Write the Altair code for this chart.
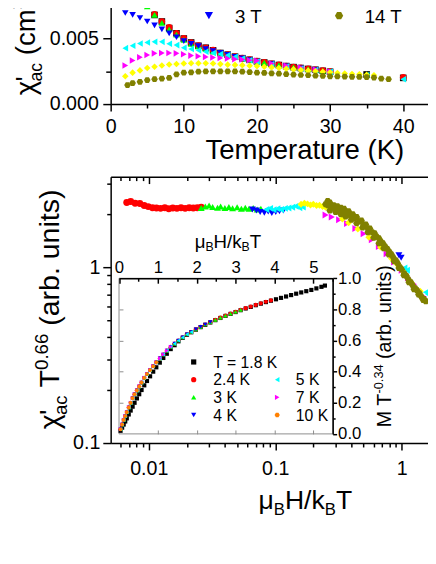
import altair as alt
import pandas as pd

FONT = "Liberation Sans"
HEX = "M-1,0L-0.5,-0.866L0.5,-0.866L1,0L0.5,0.866L-0.5,0.866Z"

# ---------------- data: top panel (chi'_ac vs T for several fields) ----------------
fields = ["0 T", "1 T", "2 T", "3 T", "5 T", "7 T", "10 T", "14 T"]
field_colors = ["#000000", "#ff0000", "#00ff00", "#0000ff", "#00ffff", "#ff00ff", "#ffff00", "#808000"]
field_shapes = ["square", "circle", "triangle-up", "triangle-down", "triangle-left", "triangle-right", "diamond", HEX]

top_T = {
    "0 T": [2, 3, 4, 5, 6, 7, 8, 9, 10, 11, 12, 13, 14, 15, 16, 17, 18, 19, 20, 21, 22, 23, 24, 25, 26, 27, 28, 29, 30, 35, 40],
    "1 T": [2, 3, 4, 5, 6, 7, 8, 9, 10, 11, 12, 13, 14, 15, 16, 17, 18, 19, 20, 21, 22, 23, 24, 25, 26, 27, 28, 29, 30, 40],
    "2 T": [2, 3, 4, 5, 6, 7, 8, 9, 10, 11, 12, 13, 14, 15, 16, 17, 18, 19, 20, 21, 22, 23, 24, 25, 26, 27, 28, 29, 30],
    "3 T": [2, 3, 4, 5, 6, 7, 8, 9, 10, 11, 12, 13, 14, 15, 16, 17, 18, 19, 20, 22, 24, 26, 28, 30],
    "5 T": [2, 3, 4, 5, 6, 7, 8, 9, 10, 11, 12, 13, 14, 15, 16, 17, 18, 19, 20, 22, 24, 26, 28, 30, 35, 40],
    "7 T": [2, 3, 4, 5, 6, 7, 8, 9, 10, 11, 12, 13, 14, 15, 16, 17, 18, 19, 20, 22, 24, 26, 28, 30],
    "10 T": [2, 3, 4, 5, 6, 7, 8, 9, 10, 11, 12, 13, 14, 15, 16, 17, 18, 19, 20, 21, 22, 23, 24, 25, 26, 27, 28,
             29, 30, 31, 32, 33, 34, 35, 36],
    "14 T": [2.3, 3, 4, 5, 6, 7, 8, 9, 10, 11, 12, 13, 14, 15, 16, 17, 18, 19, 20, 21, 22, 23, 24, 25, 26, 27, 28,
             29, 30, 31, 32, 33, 34, 35, 36, 37, 38],
}
top_chi = {
    "0 T": [0.0130, 0.0105, 0.0089, 0.0076, 0.0068, 0.0063, 0.0058, 0.0054, 0.0050, 0.0047, 0.00445, 0.0043,
            0.0041, 0.0039, 0.00377, 0.00362, 0.0035, 0.00338, 0.00327, 0.00317, 0.00307, 0.00298, 0.0029,
            0.00282, 0.00275, 0.00268, 0.00262, 0.00254, 0.00247, 0.00226, 0.00200],
    "1 T": [0.0125, 0.0102, 0.0087, 0.0075, 0.00685, 0.0063, 0.00585, 0.0054, 0.00502, 0.0047, 0.00447, 0.0043,
            0.00412, 0.0039, 0.00378, 0.00363, 0.00351, 0.00339, 0.00328, 0.00318, 0.00308, 0.00299, 0.00291,
            0.00283, 0.00276, 0.00269, 0.00262, 0.00255, 0.00248, 0.00205],
    "2 T": [0.0110, 0.0093, 0.0082, 0.00745, 0.0068, 0.0062, 0.0057, 0.0053, 0.0049, 0.0046, 0.0044, 0.0042,
            0.0040, 0.00388, 0.00375, 0.0036, 0.00348, 0.00337, 0.00326, 0.00316, 0.00306, 0.00297, 0.00289,
            0.00281, 0.00274, 0.00267, 0.0026, 0.00253, 0.00246],
    "3 T": [0.00695, 0.0068, 0.00657, 0.0063, 0.0060, 0.0057, 0.0054, 0.0051, 0.0048, 0.0046, 0.00442, 0.0042,
            0.00405, 0.0039, 0.00375, 0.0036, 0.00348, 0.00336, 0.00325, 0.00305, 0.00288, 0.00273, 0.0026, 0.00245],
    "5 T": [0.00427, 0.00445, 0.00462, 0.0047, 0.00475, 0.00475, 0.0046, 0.0045, 0.0043, 0.0042, 0.0041, 0.0040,
            0.0039, 0.00382, 0.00372, 0.0036, 0.00347, 0.00335, 0.00324, 0.00304, 0.00287, 0.00272, 0.00259,
            0.00246, 0.00222, 0.0019],
    "7 T": [0.00295, 0.00332, 0.00357, 0.00375, 0.00387, 0.0039, 0.0039, 0.00387, 0.0038, 0.0037, 0.00365, 0.0036,
            0.00355, 0.00352, 0.00348, 0.00343, 0.0034, 0.00335, 0.0033, 0.0031, 0.00293, 0.00277, 0.00263, 0.00248],
    "10 T": [0.00212, 0.0024, 0.00257, 0.00275, 0.00285, 0.00295, 0.00302, 0.00306, 0.0031, 0.00311, 0.00312,
             0.00311, 0.0031, 0.00305, 0.00301, 0.00299, 0.00297, 0.00293, 0.0029, 0.00285, 0.0028, 0.00275, 0.0027,
             0.00265, 0.0026, 0.00255, 0.0025, 0.00246, 0.00242, 0.00237, 0.00233, 0.0023, 0.00227, 0.00223, 0.0022],
    "14 T": [0.00145, 0.0016, 0.0017, 0.00183, 0.0019, 0.00195, 0.0020, 0.00227, 0.0024, 0.00242, 0.00247, 0.00249,
             0.0025, 0.0025, 0.0025, 0.00249, 0.00247, 0.00244, 0.0024, 0.00238, 0.00235, 0.00232, 0.00228, 0.00225,
             0.00222, 0.0022, 0.00217, 0.00215, 0.00212, 0.00211, 0.0021, 0.00208, 0.00207, 0.00205, 0.00202,
             0.00195, 0.0019],
}

# ---------------- data: main panel (scaled chi'_ac T^0.66 vs muB H / kB T) ----------------
main_fields = fields[1:]
main_x = {
    "1 T": [0.0067, 0.0072, 0.0078, 0.0085, 0.0092, 0.0099, 0.0107, 0.0115, 0.0124, 0.0134, 0.0144, 0.0155,
            0.0167, 0.0180, 0.0194, 0.0209, 0.0225, 0.0242, 0.0260],
    "2 T": [0.026, 0.028, 0.030, 0.032, 0.035, 0.037, 0.040, 0.043, 0.046, 0.050, 0.054, 0.058, 0.062, 0.067,
            0.072, 0.077],
    "3 T": [0.066, 0.071, 0.076, 0.082, 0.088, 0.094, 0.101, 0.108, 0.116, 0.95, 0.99],
    "5 T": [0.085, 0.091, 0.097, 0.104, 0.111, 0.119, 0.127, 0.136, 0.145, 0.155, 0.165, 1.05, 1.10, 1.55, 1.62],
    "7 T": [0.25, 0.28, 0.32, 0.37, 0.43, 0.50, 0.58, 0.66, 0.76, 0.87, 1.00, 1.12, 1.25, 1.37, 1.50],
    "10 T": [0.160, 0.170, 0.180, 0.190, 0.200, 0.212, 0.224, 0.237, 0.250, 0.34, 0.38, 0.45, 0.55, 0.68, 0.83,
             0.92, 1.02, 1.20, 1.40],
    "14 T": [0.25, 0.26, 0.27, 0.29, 0.31, 0.33, 0.35, 0.38, 0.41, 0.44, 0.48, 0.52, 0.56, 0.61, 0.66, 0.71, 0.77,
             0.83, 0.90, 0.97, 1.05, 1.13, 1.22, 1.32, 1.43, 1.55,
             0.26, 0.28, 0.30, 0.32, 0.345, 0.37, 0.395, 0.42, 0.46, 0.50, 0.54, 0.585, 0.635, 0.685, 0.74, 0.80,
             0.86, 0.93, 1.00, 1.09, 1.18, 1.28, 1.38, 1.50,
             0.27, 0.30, 0.33, 0.36, 0.40, 0.44, 0.49, 0.54, 0.60, 0.66, 0.72, 0.79, 0.87, 0.95, 1.04, 1.14, 1.25,
             1.36, 1.48],
}
main_y = {
    "1 T": [2.33, 2.36, 2.31, 2.30, 2.24, 2.21, 2.18, 2.17, 2.16, 2.18, 2.15, 2.17, 2.16, 2.18, 2.16, 2.18, 2.17,
            2.18, 2.19],
    "2 T": [2.17, 2.21, 2.24, 2.20, 2.18, 2.21, 2.17, 2.20, 2.16, 2.19, 2.15, 2.18, 2.15, 2.17, 2.13, 2.15],
    "3 T": [2.13, 2.10, 2.06, 2.04, 2.07, 2.03, 2.06, 2.08, 2.10, 1.17, 1.13],
    "5 T": [2.13, 2.16, 2.12, 2.15, 2.13, 2.16, 2.17, 2.19, 2.22, 2.18, 2.20, 0.99, 0.96, 0.72, 0.70],
    "7 T": [1.98, 1.93, 1.86, 1.77, 1.66, 1.55, 1.43, 1.31, 1.19, 1.07, 0.96, 0.87, 0.80, 0.74, 0.68],
    "10 T": [2.28, 2.31, 2.29, 2.26, 2.28, 2.24, 2.25, 2.21, 2.19, 1.88, 1.79, 1.65, 1.48, 1.30, 1.12, 1.04, 0.95,
             0.81, 0.73],
    "14 T": [2.28, 2.38, 2.33, 2.25, 2.22, 2.18, 2.15, 2.08, 2.00, 1.93, 1.84, 1.75, 1.66, 1.56, 1.46, 1.37, 1.27,
             1.18, 1.09, 1.00, 0.92, 0.85, 0.79, 0.74, 0.68, 0.64,
             2.25, 2.20, 2.14, 2.10, 2.05, 2.00, 1.95, 1.90, 1.82, 1.74, 1.66, 1.58, 1.49, 1.40, 1.31, 1.22, 1.13,
             1.05, 0.97, 0.89, 0.82, 0.76, 0.71, 0.66,
             2.10, 2.06, 2.00, 1.94, 1.86, 1.78, 1.68, 1.58, 1.47, 1.37, 1.28, 1.18, 1.08, 0.99, 0.90, 0.82, 0.75,
             0.70, 0.65],
}

# ---------------- data: inset (M T^-0.34 vs muB H / kB T) ----------------
temps = ["1.8 K", "2.4 K", "3 K", "4 K", "5 K", "7 K", "10 K"]
temp_labels = ["T = 1.8 K", "2.4 K", "3 K", "4 K", "5 K", "7 K", "10 K"]
temp_colors = ["#000000", "#ff0000", "#00ff00", "#0000ff", "#00ffff", "#ff00ff", "#ff8000"]
temp_shapes = ["square", "circle", "triangle-up", "triangle-down", "triangle-left", "triangle-right", HEX]
inset_h = [0.04, 0.08, 0.12, 0.16, 0.20, 0.25, 0.30, 0.35, 0.40, 0.46, 0.52, 0.58, 0.65, 0.72, 0.80, 0.88, 0.96,
           1.05, 1.14, 1.23, 1.33, 1.43, 1.53, 1.64, 1.75, 1.86, 1.98, 2.10, 2.22, 2.35, 2.48, 2.61, 2.74, 2.87,
           3.00, 3.13, 3.26, 3.39, 3.52, 3.65, 3.78, 3.91, 4.04, 4.17, 4.30, 4.43, 4.56, 4.69, 4.82, 4.95, 5.08,
           5.21, 5.30]
inset_m_band = [0.03, 0.06, 0.09, 0.115, 0.14, 0.17, 0.20, 0.23, 0.255, 0.28, 0.305, 0.33, 0.36, 0.385, 0.41,
                0.435, 0.46, 0.485, 0.51, 0.535, 0.56, 0.58, 0.60, 0.62, 0.64, 0.655, 0.672, 0.688, 0.703, 0.718,
                0.733, 0.747, 0.76, 0.773, 0.785, 0.797, 0.808, 0.818, 0.829, 0.839, 0.849, 0.858, 0.867, 0.876,
                0.885, 0.894, 0.903, 0.911, 0.919, 0.927, 0.937, 0.947, 0.955]
inset_m_18 = [0.02, 0.04, 0.06, 0.08, 0.10, 0.125, 0.15, 0.175, 0.20, 0.228, 0.255, 0.282, 0.312, 0.34, 0.37,
              0.40, 0.428, 0.458, 0.488, 0.515, 0.545, 0.57, 0.595, 0.617, 0.637, 0.653, 0.67, 0.686, 0.701, 0.716,
              0.731, 0.745, 0.758, 0.771, 0.783, 0.795, 0.806, 0.816, 0.827, 0.837, 0.847, 0.856, 0.865, 0.874,
              0.883, 0.892, 0.901, 0.909, 0.917, 0.925, 0.935, 0.945, 0.953]
inset_end = [5.30, 3.98, 3.22, 2.40, 1.90, 1.40, 1.00]   # last field value reached by each temperature

top_T_domain, top_chi_domain = [0, 45], [0, 0.01]
main_x_domain, main_y_domain = [0.005, 2], [0.1, 3.27]
inset_x_domain, inset_y_domain = [0, 5.5], [0, 1]

for f in fields:
    assert len(top_T[f]) == len(top_chi[f]), f
for f in main_fields:
    assert len(main_x[f]) == len(main_y[f]), f
assert len(inset_h) == len(inset_m_band) == len(inset_m_18)

# ---------------- layout (pixels inside the plot group) ----------------
W, H = 323, 438
TOP_XR, TOP_YR = [0, 335], [93, -40.4]
MAIN_XR, MAIN_YR = [0, 335], [438, 166.9]
INS_XR, INS_YR = [8.5, 226], [428.7, 270.3]
GREY = "#8c8c8c"


def lin(domain, rng):
    return alt.Scale(type="linear", domain=domain, range=rng, nice=False, zero=False)


def lg(domain, rng):
    return alt.Scale(type="log", domain=domain, range=rng, nice=False)


def ax(orient, values, tick=0, offset=0, labels=False, domain=False, fmt=None, fsize=20, pad=0,
       lbase=None, color="black", width=1.5):
    kw = dict(orient=orient, values=values, ticks=tick > 0, tickSize=tick, labels=labels, domain=domain,
              offset=offset, title=None, grid=False, tickColor=color, domainColor=color, tickWidth=width,
              domainWidth=width, zindex=1)
    if labels:
        kw.update(labelFont=FONT, labelFontSize=fsize, labelPadding=pad, labelColor="black",
                  labelFlush=False, labelOverlap=False)
        if fmt:
            kw["format"] = fmt
        if lbase:
            kw["labelBaseline"] = lbase
    return alt.Axis(**kw)


def guide(xs, xdom, ys, ydom, xaxis, yaxis):
    df = pd.DataFrame({"gx": [xdom[0], xdom[1]], "gy": [ydom[0], ydom[1]]})
    return alt.Chart(df).mark_point(opacity=0, size=1).encode(
        x=alt.X("gx:Q", scale=xs, axis=xaxis), y=alt.Y("gy:Q", scale=ys, axis=yaxis))


top_xs, top_ys = lin(top_T_domain, TOP_XR), lin(top_chi_domain, TOP_YR)
main_xs, main_ys = lg(main_x_domain, MAIN_XR), lg(main_y_domain, MAIN_YR)
ins_xs, ins_ys = lin(inset_x_domain, INS_XR), lin(inset_y_domain, INS_YR)

fcol = alt.Scale(domain=fields, range=field_colors)
fshp = alt.Scale(domain=fields, range=field_shapes)
tcol = alt.Scale(domain=temps, range=temp_colors)
tshp = alt.Scale(domain=temps, range=temp_shapes)

# ---------------- top panel ----------------
top_df = pd.DataFrame([dict(field=f, T=t, chi=c) for f in fields for t, c in zip(top_T[f], top_chi[f])])
top_layer = alt.Chart(top_df).mark_point(filled=True, opacity=1, size=45).encode(
    x=alt.X("T:Q", scale=top_xs,
            axis=ax("bottom", [0, 10, 20, 30, 40], tick=7, offset=TOP_YR[0] - H, labels=True, domain=True,
                    fmt="d", pad=22, lbase="alphabetic")),
    y=alt.Y("chi:Q", scale=top_ys,
            axis=ax("left", [0, 0.005, 0.01], tick=8, labels=True, domain=True, fmt=".3f", pad=4.5)),
    color=alt.Color("field:N", scale=fcol, legend=None),
    shape=alt.Shape("field:N", scale=fshp, legend=None),
)
top_minor = guide(top_xs, top_T_domain, top_ys, top_chi_domain,
                  ax("bottom", [5, 15, 25, 35, 45], tick=4, offset=TOP_YR[0] - H),
                  ax("left", [0.0025, 0.0075], tick=5))

# ---------------- main panel ----------------
main_df = pd.DataFrame([dict(field=f, h=x, c=y) for f in main_fields for x, y in zip(main_x[f], main_y[f])])
x_minor = [0.006, 0.007, 0.008, 0.009, 0.02, 0.03, 0.04, 0.05, 0.06, 0.07, 0.08, 0.09,
           0.2, 0.3, 0.4, 0.5, 0.6, 0.7, 0.8, 0.9, 2]
y_minor = [0.2, 0.3, 0.4, 0.5, 0.6, 0.7, 0.8, 0.9, 2, 3]
main_layer = alt.Chart(main_df).mark_point(filled=True, opacity=1, size=50).encode(
    x=alt.X("h:Q", scale=main_xs,
            axis=ax("bottom", [0.01, 0.1, 1], tick=7, labels=True, domain=True, fmt="~g", pad=25,
                    lbase="alphabetic")),
    y=alt.Y("c:Q", scale=main_ys,
            axis=ax("left", [0.1, 1], tick=8, labels=True, domain=True, fmt="~g", pad=3)),
    color=alt.Color("field:N", scale=fcol, legend=None),
    shape=alt.Shape("field:N", scale=fshp, legend=None),
)
main_minor = guide(main_xs, main_x_domain, main_ys, main_y_domain,
                   ax("bottom", x_minor, tick=4), ax("left", y_minor, tick=4))
main_topframe = guide(main_xs, main_x_domain, main_ys, main_y_domain,
                      ax("bottom", [0.01, 0.1, 1], tick=7, offset=MAIN_YR[1] - H, domain=True), None)
main_topminor = guide(main_xs, main_x_domain, main_ys, main_y_domain,
                      ax("bottom", x_minor, tick=4, offset=MAIN_YR[1] - H), None)

# ---------------- inset ----------------
box_df = pd.DataFrame({"x0": [inset_x_domain[0]], "x1": [inset_x_domain[1]],
                       "y0": [inset_y_domain[0]], "y1": [inset_y_domain[1]]})
inset_box = alt.Chart(box_df).mark_rect(fill="white", stroke=GREY, strokeWidth=1).encode(
    x=alt.X("x0:Q", scale=ins_xs,
            axis=ax("top", [0, 1, 2, 3, 4, 5], tick=0, offset=-INS_YR[1], labels=True, domain=True, fmt="d",
                    fsize=17, pad=6, lbase="alphabetic")),
    x2="x1:Q",
    y=alt.Y("y0:Q", scale=ins_ys,
            axis=ax("right", [0, 0.2, 0.4, 0.6, 0.8, 1.0], tick=4, offset=INS_XR[1] - W, labels=True,
                    domain=True, fmt=".1f", fsize=17, pad=1)),
    y2="y1:Q",
)
inset_g1 = guide(ins_xs, inset_x_domain, ins_ys, inset_y_domain,
                 ax("bottom", [0, 1, 2, 3, 4, 5], tick=5, offset=INS_YR[1] - H),
                 ax("right", [0.1, 0.3, 0.5, 0.7, 0.9], tick=2.5, offset=INS_XR[1] - W))
inset_g2 = guide(ins_xs, inset_x_domain, ins_ys, inset_y_domain,
                 ax("bottom", [0.5, 1.5, 2.5, 3.5, 4.5, 5.5], tick=3, offset=INS_YR[1] - H),
                 ax("right", [0.2, 0.4, 0.6, 0.8], tick=4, offset=INS_XR[0] - W, color=GREY, width=1))
inset_g3 = guide(ins_xs, inset_x_domain, ins_ys, inset_y_domain,
                 ax("top", [1, 2, 3, 4, 5], tick=4, offset=-INS_YR[0], color=GREY, width=1), None)

inset_rows = []
for i, tname in enumerate(temps):
    ms = inset_m_18 if i == 0 else inset_m_band
    for hval, mval in zip(inset_h, ms):
        if hval <= inset_end[i]:
            inset_rows.append(dict(temp=tname, h=hval, m=mval))
inset_df = pd.DataFrame(inset_rows)
inset_layer = alt.Chart(inset_df).mark_point(filled=True, opacity=1, size=18).encode(
    x=alt.X("h:Q", scale=ins_xs, axis=None),
    y=alt.Y("m:Q", scale=ins_ys, axis=None),
    color=alt.Color("temp:N", scale=tcol, legend=None),
    shape=alt.Shape("temp:N", scale=tshp, legend=None),
)

# ---------------- legends (drawn as marks) ----------------
top_leg = []
for i, f in enumerate(fields):
    col, row = i // 4, i % 4
    top_leg.append(dict(name=f, sx=[100, 232.5][col], sy=3 - (3 - row) * 20,
                        tx=[126.5, 258.5][col], ty=10 - (3 - row) * 20))
top_leg_df = pd.DataFrame(top_leg)
top_leg_pts = alt.Chart(top_leg_df).mark_point(filled=True, opacity=1, size=70).encode(
    x=alt.X("sx:Q", scale=None, axis=None), y=alt.Y("sy:Q", scale=None, axis=None),
    color=alt.Color("name:N", scale=fcol, legend=None), shape=alt.Shape("name:N", scale=fshp, legend=None))
top_leg_txt = alt.Chart(top_leg_df).mark_text(align="left", baseline="alphabetic", font=FONT, fontSize=19,
                                              color="black").encode(
    x=alt.X("tx:Q", scale=None, axis=None), y=alt.Y("ty:Q", scale=None, axis=None), text="name:N")

ins_leg = []
for i, tname in enumerate(temps):
    col, row = (0, i) if i < 4 else (1, i - 3)
    cy = 355.5 + row * 18
    ins_leg.append(dict(name=tname, label=temp_labels[i], sx=[84.5, 169.5][col], sy=cy,
                        tx=[104.5, 188.5][col], ty=cy + 5.7))
ins_leg_df = pd.DataFrame(ins_leg)
ins_leg_pts = alt.Chart(ins_leg_df).mark_point(filled=True, opacity=1, size=28).encode(
    x=alt.X("sx:Q", scale=None, axis=None), y=alt.Y("sy:Q", scale=None, axis=None),
    color=alt.Color("name:N", scale=tcol, legend=None), shape=alt.Shape("name:N", scale=tshp, legend=None))
ins_leg_txt = alt.Chart(ins_leg_df).mark_text(align="left", baseline="alphabetic", font=FONT, fontSize=16,
                                              color="black").encode(
    x=alt.X("tx:Q", scale=None, axis=None), y=alt.Y("ty:Q", scale=None, axis=None), text="label:N")

# ---------------- titles with sub/superscripts ----------------
ADV = {" ": .278, "(": .333, ")": .333, ".": .278, "/": .278, "-": .333, "=": .584, "'": .191, "a": .556,
       "b": .556, "c": .5, "e": .556, "i": .222, "k": .5, "l": .222, "m": .833, "n": .556, "o": .556, "p": .556,
       "r": .333, "s": .5, "t": .278, "u": .556, "B": .667, "H": .722, "K": .667, "M": .833, "T": .611,
       "μ": .576, "χ": .5}


def wid(s, size):
    return sum(ADV.get(ch, 0.556) for ch in s) * size


def run(parts, x, y, vertical):
    out, pos = [], 0.0
    for text, size, shift, adv in parts:
        stripped = text.lstrip(" ")
        pos += wid(text[:len(text) - len(stripped)], size)
        if vertical:
            out.append(dict(t=stripped, x=x + shift, y=y - pos, s=size, a=270))
        else:
            out.append(dict(t=stripped, x=x + pos, y=y + shift, s=size, a=0))
        if adv:
            pos += wid(stripped, size)
    return out


title_rows = []
title_rows += run([("Temperature (K)", 28, 0, True)], 96.5, 148.5, False)
title_rows += run([("χ", 28, 0, True), ("'", 28, 0, False), ("ac", 18, 8, True), (" (cm", 28, 0, True),
                   ("3", 18, -11, True), ("/mol)", 28, 0, True)], -77.5, 84, True)
title_rows += run([("χ", 29, 0, True), ("'", 29, 0, False), ("ac", 19, 8, True), (" T", 29, 0, True),
                   ("0.66", 19, -11, True), (" (arb. units)", 29, 0, True)], -52.5, 424, True)
title_rows += run([("μ", 27, 0, True), ("B", 17, 6, True), ("H/k", 27, 0, True), ("B", 17, 6, True),
                   ("T", 27, 0, True)], 150.5, 505, False)
title_rows += run([("μ", 19, 0, True), ("B", 12.5, 4, True), ("H/k", 19, 0, True), ("B", 12.5, 4, True),
                   ("T", 19, 0, True)], 85.5, 239, False)
title_rows += run([("M T", 20, 0, True), ("-0.34", 13, -8, True), (" (arb. units)", 20, 0, True)],
                  285.5, 422, True)
titles_df = pd.DataFrame(title_rows)
titles = alt.Chart(titles_df).mark_text(align="left", baseline="alphabetic", font=FONT, color="black").encode(
    x=alt.X("x:Q", scale=None, axis=None), y=alt.Y("y:Q", scale=None, axis=None), text="t:N",
    size=alt.Size("s:Q", scale=None, legend=None), angle=alt.Angle("a:Q", scale=None, legend=None))

chart = alt.layer(
    top_layer, top_minor, top_leg_pts, top_leg_txt,
    main_layer, main_minor, main_topframe, main_topminor,
    inset_box, inset_g1, inset_g2, inset_g3, inset_layer, ins_leg_pts, ins_leg_txt,
    titles,
).resolve_scale(
    x="independent", y="independent", color="independent", shape="independent"
).properties(
    width=W, height=H,
    autosize=alt.AutoSizeParams(type="none"),
    padding={"left": 104.5, "top": 0, "right": 0, "bottom": 100},
).configure_view(stroke=None).configure_axis(grid=False, labelFont=FONT)

chart.save("out.html", embed_options={"renderer": "svg", "actions": False})
